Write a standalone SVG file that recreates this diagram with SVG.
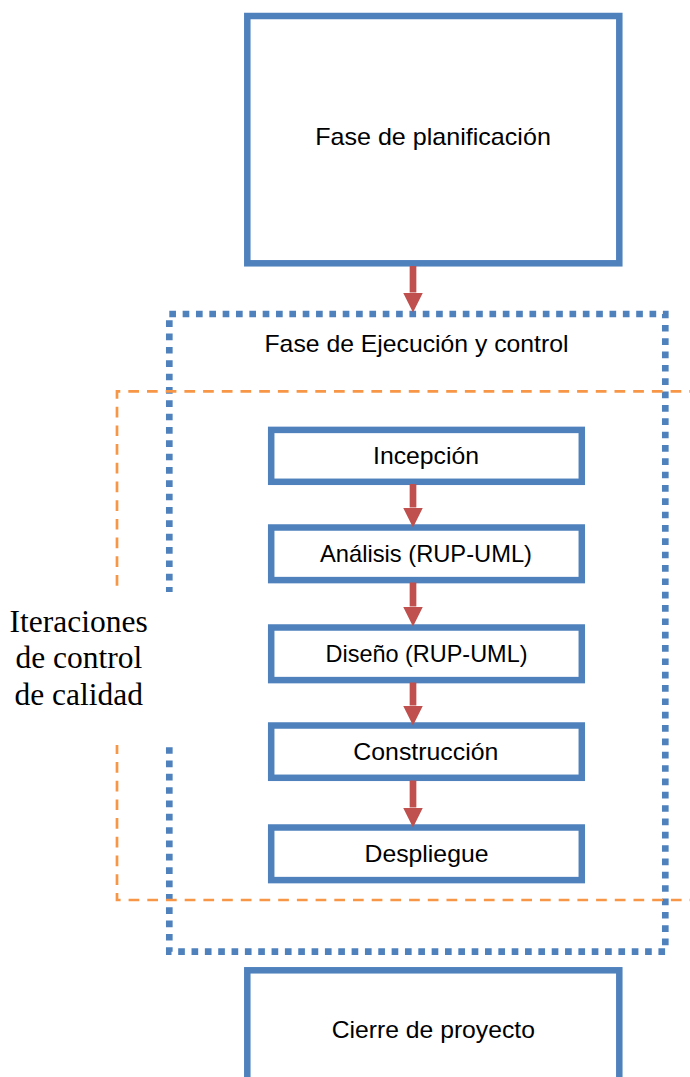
<svg xmlns="http://www.w3.org/2000/svg" width="690" height="1077" viewBox="0 0 690 1077">
<style>
.box{fill:#fff;stroke:#4F81BD;stroke-width:6.5}
.t{font-family:"Liberation Sans",Arial,sans-serif;font-size:24px;fill:#000;text-anchor:middle}
.serif{font-family:"Liberation Serif","Times New Roman",serif;font-size:31.5px;fill:#000;text-anchor:middle}
.arr{stroke:#C0504D;stroke-width:6.7;fill:none;marker-end:url(#ah)}
</style>
<defs>
<marker id="ah" markerUnits="userSpaceOnUse" markerWidth="20" markerHeight="20" viewBox="0 0 20 20" refX="0" refY="10" orient="auto">
<path d="M0,0 L20,10 L0,20 z" fill="#C0504D"/>
</marker>
</defs>
<rect width="690" height="1077" fill="#fff"/>
<g id="ejecucion-frame">
<rect x="169.3" y="314" width="496" height="637.7" fill="none" stroke="#4F81BD" stroke-width="6.67" stroke-dasharray="6.67 6.67"/>
<text class="t" x="416.5" y="352" textLength="304" lengthAdjust="spacingAndGlyphs">Fase de Ejecución y control</text>
</g>
<g id="iteraciones-frame">
<path d="M700,391.3 H117 V900 H700" fill="none" stroke="#F79646" stroke-width="2.7" stroke-dasharray="10.7 8"/>
</g>
<g id="iteraciones-label">
<rect x="2" y="592" width="172.5" height="153" fill="#fff"/>
<text class="serif" x="78.6" y="631.5">Iteraciones</text>
<text class="serif" x="78.8" y="668">de control</text>
<text class="serif" x="78.7" y="704.5">de calidad</text>
</g>
<g id="planificacion">
<rect class="box" x="247.3" y="16" width="372" height="247.3"/>
<text class="t" x="433" y="145" textLength="235.7" lengthAdjust="spacingAndGlyphs">Fase de planificación</text>
</g>
<g id="incepcion">
<rect class="box" x="271.2" y="429.9" width="310.6" height="51.9"/>
<text class="t" x="426" y="464.3" textLength="106" lengthAdjust="spacingAndGlyphs">Incepción</text>
</g>
<g id="analisis">
<rect class="box" x="271.2" y="527.5" width="310.6" height="52.6"/>
<text class="t" x="426" y="562.3" textLength="212" lengthAdjust="spacingAndGlyphs">Análisis (RUP-UML)</text>
</g>
<g id="diseno">
<rect class="box" x="271.2" y="627.5" width="310.6" height="52.6"/>
<text class="t" x="426.5" y="662.3" textLength="202" lengthAdjust="spacingAndGlyphs">Diseño (RUP-UML)</text>
</g>
<g id="construccion">
<rect class="box" x="271.2" y="725.5" width="310.6" height="52.3"/>
<text class="t" x="425.8" y="760.2" textLength="145" lengthAdjust="spacingAndGlyphs">Construcción</text>
</g>
<g id="despliegue">
<rect class="box" x="271.2" y="827.5" width="310.6" height="52.6"/>
<text class="t" x="426.5" y="862.3" textLength="124" lengthAdjust="spacingAndGlyphs">Despliegue</text>
</g>
<g id="cierre">
<rect class="box" x="247.3" y="970.3" width="372" height="200"/>
<text class="t" x="433.3" y="1038" textLength="203.3" lengthAdjust="spacingAndGlyphs">Cierre de proyecto</text>
</g>
<g id="connectors">
<line class="arr" x1="413" y1="266" x2="413" y2="292.5"/>
<line class="arr" x1="413" y1="484" x2="413" y2="507.5"/>
<line class="arr" x1="413" y1="582.5" x2="413" y2="606.5"/>
<line class="arr" x1="413" y1="682.5" x2="413" y2="705.5"/>
<line class="arr" x1="413" y1="780.5" x2="413" y2="807.5"/>
</g>
</svg>
